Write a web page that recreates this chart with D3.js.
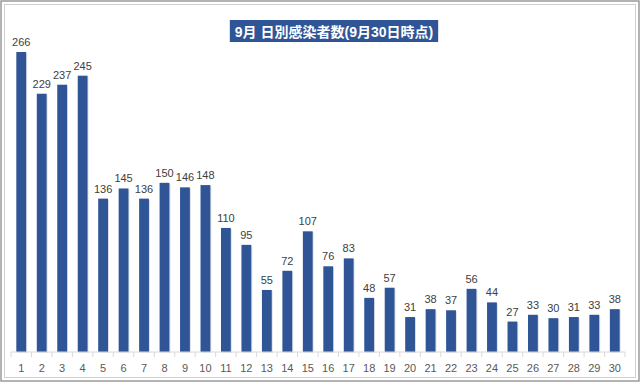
<!DOCTYPE html>
<meta charset="utf-8">
<head>
  <title>9月 日別感染者数</title>
</head>
<style>
  body { margin: 0; background: #fff; }
  text { font-family: "Liberation Sans", "Noto Sans CJK JP", sans-serif; }
</style>
<body>
  <div id="my_dataviz"></div>
  <script src="https://d3js.org/d3.v7.min.js"></script>
  <script>

  // data
  var days = d3.range(1, 31).map(String);
  var cases = [266, 229, 237, 245, 136, 145, 136, 150, 146, 148,
               110, 95, 55, 72, 107, 76, 83, 48, 57, 31,
               38, 37, 56, 44, 27, 33, 30, 31, 33, 38];
  var titleText = "9月 日別感染者数(9月30日時点)";

  var W = 640, H = 382;
  var margin = {top: 52, right: 15, bottom: 30, left: 11},
      width = W - margin.left - margin.right,
      height = H - margin.top - margin.bottom;

  var svg = d3.select("#my_dataviz")
    .append("svg")
      .attr("width", W)
      .attr("height", H);

  // frame (double grey border)
  svg.append("rect")
    .attr("x", 1).attr("y", 1).attr("width", W - 2).attr("height", H - 2)
    .attr("fill", "#fff").attr("stroke", "#9a9a9a").attr("stroke-width", 1.5);
  svg.append("rect")
    .attr("x", 4.5).attr("y", 4.5).attr("width", W - 9).attr("height", H - 9)
    .attr("fill", "none").attr("stroke", "#d0d0d0").attr("stroke-width", 1);

  var g = svg.append("g")
    .attr("transform", "translate(" + margin.left + "," + margin.top + ")");

  var x = d3.scaleBand()
    .domain(days)
    .range([0, width])
    .paddingInner(0.52)
    .paddingOuter(0.26);

  var y = d3.scaleLinear()
    .domain([0, 266])
    .range([height, 0]);

  // bars with slight shadow
  g.append("g").selectAll("rect")
    .data(cases)
    .enter().append("rect")
      .attr("x", function(d, i) { return x(days[i]) + 1; })
      .attr("y", function(d) { return y(d) + 1; })
      .attr("width", x.bandwidth())
      .attr("height", function(d) { return height - y(d); })
      .attr("fill", "#c8cbd3")
      .attr("opacity", 0.6);

  g.append("g").selectAll("rect")
    .data(cases)
    .enter().append("rect")
      .attr("x", function(d, i) { return x(days[i]); })
      .attr("y", function(d) { return y(d); })
      .attr("width", x.bandwidth())
      .attr("height", function(d) { return height - y(d); })
      .attr("fill", "#2f5597");

  // value labels
  g.append("g").selectAll("text")
    .data(cases)
    .enter().append("text")
      .attr("x", function(d, i) { return x(days[i]) + x.bandwidth() / 2; })
      .attr("y", function(d) { return y(d) - 6; })
      .attr("text-anchor", "middle")
      .attr("font-size", 11)
      .attr("fill", "#404040")
      .text(function(d) { return d; });

  // x axis with ticks between categories
  var xAxis = g.append("g")
    .attr("transform", "translate(0," + height + ")");
  xAxis.append("line")
    .attr("x1", 0).attr("x2", width)
    .attr("stroke", "#d9d9d9");
  xAxis.selectAll("line.tick")
    .data(d3.range(0, days.length + 1))
    .enter().append("line")
      .attr("class", "tick")
      .attr("x1", function(i) { return i * x.step(); })
      .attr("x2", function(i) { return i * x.step(); })
      .attr("y1", 0).attr("y2", 5)
      .attr("stroke", "#d9d9d9");
  xAxis.selectAll("text")
    .data(days)
    .enter().append("text")
      .attr("x", function(d) { return x(d) + x.bandwidth() / 2; })
      .attr("y", 20)
      .attr("text-anchor", "middle")
      .attr("font-size", 11)
      .attr("fill", "#595959")
      .text(function(d) { return d; });

  // title box
  var title = svg.append("g");
  var tText = title.append("text")
    .attr("x", 334)
    .attr("y", 36.5)
    .attr("text-anchor", "middle")
    .attr("font-size", 14)
    .attr("font-weight", "bold")
    .attr("fill", "#fff")
    .attr("font-family", "'Noto Sans CJK JP', sans-serif")
    .text(titleText);
  var bb = tText.node().getBBox();
  title.insert("rect", "text")
    .attr("x", bb.x - 5).attr("y", 20)
    .attr("width", bb.width + 10).attr("height", 22)
    .attr("fill", "#2f5597");

  </script>
</body>
</html>
